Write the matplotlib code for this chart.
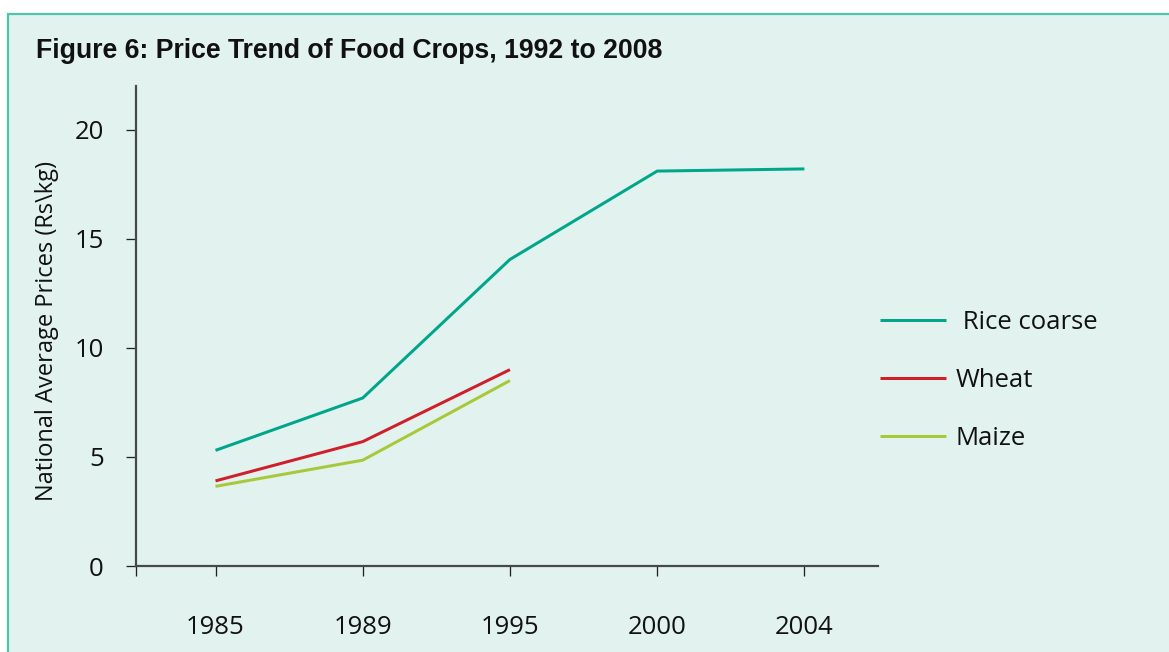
import matplotlib
matplotlib.use("Agg")
import matplotlib.pyplot as plt
from matplotlib.patches import Rectangle

# Data
years = ["1985", "1989", "1995", "2000", "2004"]
rice_coarse = [5.3, 7.7, 14.05, 18.1, 18.2]
wheat = [3.9, 5.7, 9.0]
maize = [3.65, 4.85, 8.5]
y_ticks = [0, 5, 10, 15, 20]

BG = "#e2f2ee"
BORDER = "#4cc4ae"
SPINE = "#444a4a"
C_RICE = "#00a68a"
C_WHEAT = "#d01f2b"
C_MAIZE = "#a8c83a"

W, H, DPI = 1169, 652, 100
px = 72.0 / DPI  # points per pixel

fig = plt.figure(figsize=(W / DPI, H / DPI), dpi=DPI, facecolor="white")

# Tinted panel with teal frame
fig.add_artist(Rectangle((8 / W, -0.05), 1.2, (H - 14) / H + 0.05,
                         transform=fig.transFigure, facecolor=BG,
                         edgecolor=BORDER, linewidth=2.2 * px, zorder=0))

fig.text(36 / W, 1 - 51 / H, "Figure 6: Price Trend of Food Crops, 1992 to 2008",
         family="Liberation Sans", fontweight="bold", fontsize=19.2,
         ha="left", va="center", color="#111111")

ax = fig.add_axes([136 / W, 1 - 566 / H, (878 - 136) / W, (566 - 86) / H])
ax.set_facecolor("none")

xs = list(range(len(years)))
ax.plot(xs, rice_coarse, color=C_RICE, lw=3 * px, label=" Rice coarse",
        solid_capstyle="butt")
ax.plot(xs[:len(wheat)], wheat, color=C_WHEAT, lw=3 * px, label="Wheat",
        solid_capstyle="butt")
ax.plot(xs[:len(maize)], maize, color=C_MAIZE, lw=3 * px, label="Maize",
        solid_capstyle="butt")

ax.set_xlim(-0.54, 4.5)
ax.set_ylim(0, 22)

for s in ("top", "right"):
    ax.spines[s].set_visible(False)
for s in ("left", "bottom"):
    ax.spines[s].set_color(SPINE)
    ax.spines[s].set_linewidth(2.2 * px)

font = "Open Sans"
fs = 18.5
ax.set_xticks([-0.54] + xs)
ax.set_xticklabels([""] + years, family=font, fontsize=fs, color="#111111")
ax.set_yticks(y_ticks)
ax.set_yticklabels([str(v) for v in y_ticks], family=font, fontsize=fs,
                   color="#111111")
ax.tick_params(axis="both", direction="out", length=10 * px, width=1.3 * px,
               color="#222222")
ax.tick_params(axis="x", pad=39 * px)
ax.tick_params(axis="y", pad=22 * px)

ax.set_ylabel("National Average Prices (Rs\\kg)", family=font, fontsize=17,
              color="#111111")
ax.yaxis.set_label_coords(-0.104, 0.49)

leg = ax.legend(loc="upper left", bbox_to_anchor=(857 / W, 1 - 287 / H),
                bbox_transform=fig.transFigure, frameon=False,
                prop={"family": font, "size": fs}, handlelength=2.55,
                handletextpad=0.4, labelspacing=1.28)
for t in leg.get_texts():
    t.set_color("#111111")

fig.savefig("out.png", dpi=DPI, facecolor=fig.get_facecolor())
